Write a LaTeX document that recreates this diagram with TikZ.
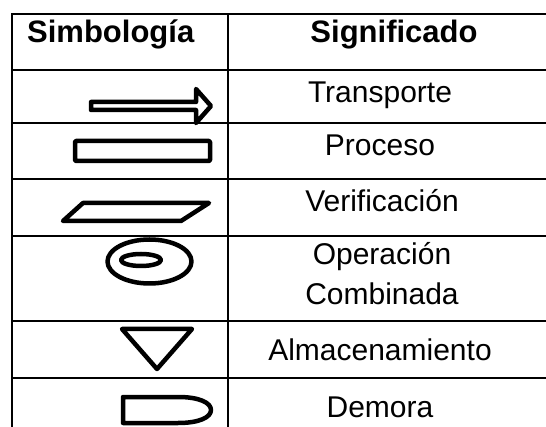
\documentclass[tikz,border=0pt]{standalone}
\usepackage{fontspec}
\setmainfont{Liberation Sans}
\begin{document}
\begin{tikzpicture}[x=1pt,y=-1pt,
  grid/.style={line width=2pt,line cap=rect},
  sym/.style={line width=4.5pt,line join=round},
  head/.style={font=\fontsize{31}{31}\selectfont\bfseries,anchor=base,inner sep=0pt},
  body/.style={font=\fontsize{30}{30}\selectfont,anchor=base,inner sep=0pt}]
\useasboundingbox (0,0) rectangle (546,427);
% table grid
\draw[grid] (12,14) -- (548,14);
\draw[grid] (12,14) -- (12,428);
\draw[grid] (228,14) -- (228,428);
\foreach \y in {70,123,179,236,321,378} \draw[grid] (12,\y) -- (548,\y);
% headers
\node[head,anchor=base west] (h1) at (27,43) {Simbología};
\node[head] (h2) at (394,43) {Significado};
% texts
\node[body] (t1) at (380,103) {Transporte};
\node[body] (t2) at (380,156) {Proceso};
\node[body] (t3) at (382,212) {Verificación};
\node[body] (t4) at (382,265) {Operación};
\node[body] (t5) at (382,305) {Combinada};
\node[body] (t6) at (380,361) {Almacenamiento};
\node[body] (t7) at (380,417) {Demora};
% transport arrow
\draw[sym] (91,102) -- (196,102) -- (196,89) -- (211,106) -- (196,123) -- (196,110) -- (91,110) -- cycle;
% process
\draw[sym,rounded corners=1pt] (75,141) rectangle (210,161);
% verification
\draw[sym] (63,221) -- (83,203) -- (209,203) -- (181,221) -- cycle;
% combined operation
\draw[sym] (149.5,261.5) ellipse [x radius=42,y radius=22];
\draw[sym] (141,260) ellipse [x radius=20,y radius=6];
% storage
\draw[sym] (122,329) -- (192,329) -- (157,369) -- cycle;
% delay
\draw[sym] (123,397) -- (178,397) .. controls (200,397) and (211,403) .. (211,410) .. controls (211,417) and (200,423) .. (178,423) -- (123,423) -- cycle;
\end{tikzpicture}
\end{document}
